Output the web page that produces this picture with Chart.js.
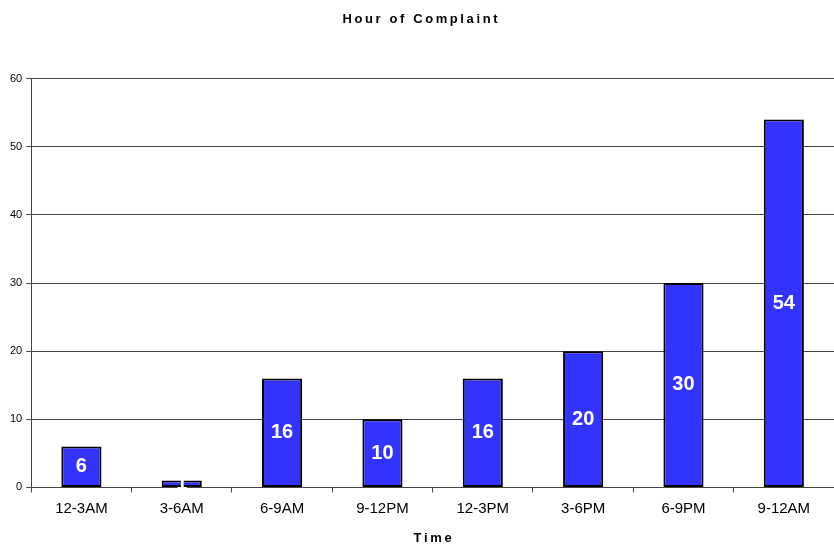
<!DOCTYPE html>
<html>
<head>
<meta charset="utf-8">
<script src="https://cdn.jsdelivr.net/npm/chart.js@4"></script>
<style>
  body { margin: 0; background: #fff; }
  #wrap { width: 834px; height: 546px; }
</style>
</head>
<body>
<div id="wrap"><canvas id="myChart"></canvas></div>
<script>
var labels = ['12-3AM', '3-6AM', '6-9AM', '9-12PM', '12-3PM', '3-6PM', '6-9PM', '9-12AM'];
var complaints = [6, 1, 16, 10, 16, 20, 30, 54];

// spread letters a little, like the original title
function spaced(s) {
    return s.split('').join('\u2009');
}

// white value labels inside the bars
var barLabels = {
    id: 'barLabels',
    afterDatasetsDraw(chart) {
        var ctx = chart.ctx;
        var meta = chart.getDatasetMeta(0);
        ctx.save();
        ctx.fillStyle = '#fff';
        ctx.font = 'bold 20px "Liberation Sans", Arial, sans-serif';
        ctx.textAlign = 'center';
        ctx.textBaseline = 'middle';
        meta.data.forEach(function (bar, i) {
            var y = (bar.y + bar.base) / 2;
            ctx.fillText(String(complaints[i]), bar.x, y);
        });
        ctx.restore();
    }
};

var ctx = document.getElementById('myChart');
new Chart(ctx, {
    type: 'bar',
    data: {
        labels: labels,
        datasets: [{
            label: 'Complaints',
            data: complaints,
            backgroundColor: '#3333ff',
            borderColor: '#000',
            borderWidth: 2,
            borderSkipped: false,
            barPercentage: 0.4,
            categoryPercentage: 1
        }]
    },
    options: {
        responsive: true,
        maintainAspectRatio: false,
        animation: false,
        layout: { padding: { top: 6, right: 0, left: 6, bottom: 0 } },
        plugins: {
            legend: { display: false },
            tooltip: { enabled: false },
            title: {
                display: true,
                text: spaced('Hour of Complaint'),
                color: '#000',
                font: { family: '"Liberation Sans", Arial, sans-serif', size: 13, weight: 'bold' },
                padding: { top: 6, bottom: 51 }
            }
        },
        scales: {
            x: {
                offset: true,
                grid: {
                    offset: true,
                    drawOnChartArea: false,
                    drawTicks: true,
                    tickLength: 5,
                    color: '#444'
                },
                border: { color: '#444', width: 1 },
                ticks: {
                    color: '#000',
                    padding: 7,
                    maxRotation: 0,
                    font: { family: '"Liberation Sans", Arial, sans-serif', size: 15 }
                },
                title: {
                    display: true,
                    text: spaced('Time'),
                    color: '#000',
                    font: { family: '"Liberation Sans", Arial, sans-serif', size: 13, weight: 'bold' },
                    padding: { top: 6, bottom: 0 }
                }
            },
            y: {
                min: 0,
                max: 60,
                ticks: {
                    stepSize: 10,
                    color: '#000',
                    padding: 4,
                    font: { family: '"Liberation Sans", Arial, sans-serif', size: 11 }
                },
                grid: {
                    color: '#444',
                    tickLength: 5,
                    lineWidth: 1
                },
                border: { color: '#444', width: 1 }
            }
        }
    },
    plugins: [barLabels]
});
</script>
</body>
</html>
